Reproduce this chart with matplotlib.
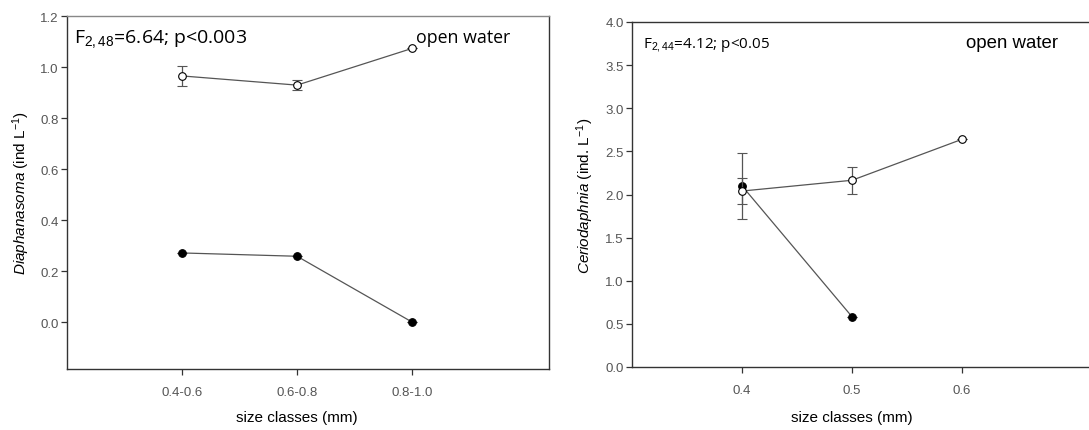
import matplotlib
matplotlib.use("Agg")
import matplotlib.pyplot as plt

# --- data ---
# left panel: Diaphanasoma
dia_classes = ["0.4-0.6", "0.6-0.8", "0.8-1.0"]
dia_open = [0.965, 0.929, 1.073]
dia_open_err = [0.039, 0.019, 0.0]
dia_filled = [0.271, 0.258, 0.0]
dia_filled_err = [0.0, 0.0, 0.0]

# right panel: Ceriodaphnia
cer_sizes = [0.4, 0.5, 0.6]
cer_open = [2.04, 2.165, 2.64]
cer_open_err = [0.155, 0.155, 0.0]
cer_sizes_filled = [0.4, 0.5]
cer_filled = [2.10, 0.583]
cer_filled_err = [0.38, 0.0]

plt.rcParams['font.family'] = ['Liberation Sans', 'DejaVu Sans']
plt.rcParams['mathtext.fontset'] = 'custom'
plt.rcParams['mathtext.rm'] = 'Liberation Sans'
plt.rcParams['mathtext.it'] = 'Liberation Sans:italic'

LINE = '#555555'
SPINE = '#333333'
TICKC = '#555555'

fig = plt.figure(figsize=(10.89, 4.31), dpi=100)


def draw(ax, x, y, yerr, filled):
    ax.errorbar(x, y, yerr=yerr, color=LINE, lw=0.9, elinewidth=0.9,
                capsize=3.8, capthick=0.9, marker='o', ms=5.5,
                mfc='black' if filled else 'white', mec='black', mew=0.8,
                zorder=3 if filled else 4)


def style(ax):
    for s in ax.spines.values():
        s.set_color(SPINE)
        s.set_linewidth(1.0)
    ax.tick_params(direction='out', length=4, width=0.9, color=SPINE,
                   labelcolor=TICKC, labelsize=9.5)
    ax.tick_params(axis='x', pad=8)
    ax.tick_params(axis='y', pad=2)


# ---- left panel ----
ax1 = fig.add_axes([67 / 1089, 61 / 431, 482 / 1089, 353 / 431])
xi = list(range(len(dia_classes)))
draw(ax1, xi, dia_filled, dia_filled_err, True)
draw(ax1, xi, dia_open, dia_open_err, False)
ax1.set_xlim(-1, 3.19)
ax1.set_ylim(-0.184, 1.2)
ax1.set_xticks(xi)
ax1.set_xticklabels(dia_classes)
ax1.set_yticks([0.0, 0.2, 0.4, 0.6, 0.8, 1.0, 1.2])
ax1.set_yticklabels(['0.0', '0.2', '0.4', '0.6', '0.8', '1.0', '1.2'])
style(ax1)
ax1.spines['top'].set_color('#888888')
ax1.set_xlabel('size classes (mm)', fontsize=11)
ax1.set_ylabel(r'$\mathit{Diaphanasoma}$ (ind L$^{-1}$)', fontsize=11)
ax1.xaxis.set_label_coords(2 / 4.19, -0.115)
ax1.yaxis.set_label_coords(-0.072, 0.5)
ax1.text(74, 43, r'F$_{2,48}$=6.64; p<0.003', transform=None,
         family=['Open Sans', 'DejaVu Sans'], fontsize=14, va='baseline')
ax1.text(416, 43, 'open water', transform=None,
         family=['Open Sans', 'DejaVu Sans'], fontsize=12.8, va='baseline')

# ---- right panel ----
ax2 = fig.add_axes([632 / 1089, 63 / 431, 462 / 1089, 345 / 431])
draw(ax2, cer_sizes_filled, cer_filled, cer_filled_err, True)
draw(ax2, cer_sizes, cer_open, cer_open_err, False)
ax2.set_xlim(0.3, 0.72)
ax2.set_ylim(0, 4.0)
ax2.set_xticks(cer_sizes)
ax2.set_xticklabels(['0.4', '0.5', '0.6'])
ax2.set_yticks([0.0, 0.5, 1.0, 1.5, 2.0, 2.5, 3.0, 3.5, 4.0])
ax2.set_yticklabels(['0.0', '0.5', '1.0', '1.5', '2.0', '2.5', '3.0', '3.5', '4.0'])
style(ax2)
ax2.spines['right'].set_visible(False)
ax2.set_xlabel('size classes (mm)', fontsize=11)
ax2.set_ylabel(r'$\mathit{Ceriodaphnia}$ (ind. L$^{-1}$)', fontsize=11)
ax2.xaxis.set_label_coords(0.2 / 0.42, -0.125)
ax2.yaxis.set_label_coords(-0.078, 0.5)
ax2.text(643, 48, r'F$_{2,44}$=4.12; p<0.05', transform=None,
         family=['Open Sans', 'DejaVu Sans'], fontsize=11, va='baseline')
ax2.text(966, 48, 'open water', transform=None, fontsize=13.4, va='baseline')

# text placed in pixel coords measured from top -> flip
for ax in (ax1, ax2):
    for t in ax.texts:
        x, y = t.get_position()
        t.set_position((x, 431 - y))

fig.savefig('out.png', dpi=100)
